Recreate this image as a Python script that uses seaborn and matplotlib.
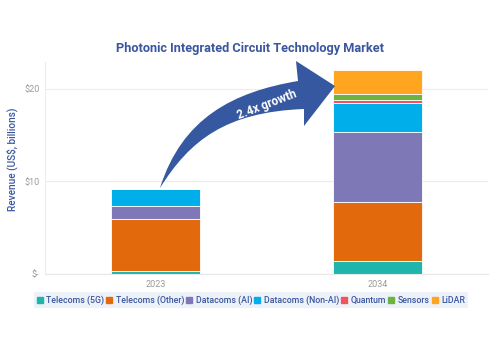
import numpy as np
import pandas as pd
import matplotlib
matplotlib.use("Agg")
import matplotlib.pyplot as plt
from matplotlib.path import Path
from matplotlib.patches import PathPatch
from matplotlib.lines import Line2D
import seaborn as sns

# data (US$ billions)
years = ["2023", "2034"]
segments = ["Telecoms (5G)", "Telecoms (Other)", "Datacoms (AI)", "Datacoms (Non-AI)",
            "Quantum", "Sensors", "LiDAR"]
telecoms_5g = [0.35, 1.4]
telecoms_other = [5.55, 6.4]
datacoms_ai = [1.5, 7.5]
datacoms_nonai = [1.75, 3.2]
quantum = [0.0, 0.3]
sensors = [0.0, 0.65]
lidar = [0.0, 2.6]
colors = ["#1fb5ad", "#e2690c", "#7f78b7", "#00aee9", "#f2545b", "#6cb33f", "#ffa51f"]

values = [telecoms_5g, telecoms_other, datacoms_ai, datacoms_nonai, quantum, sensors, lidar]

sns.set_style("white")
plt.rcParams["font.family"] = ["Roboto", "DejaVu Sans"]

dark_blue = "#3a569f"
grey = "#9a9a9a"

fig = plt.figure(figsize=(5, 3.5), dpi=100)
ax = fig.add_axes([0.09, 0.217, 0.886, 0.606])

bottom = np.zeros(len(years))
for name, vals, c in zip(segments, values, colors):
    vals = np.array(vals)
    if vals.sum() > 0:
        sns.barplot(x=years, y=vals, bottom=bottom, color=c, width=0.4, saturation=1,
                    edgecolor="white", linewidth=0.6, ax=ax)
    bottom = bottom + vals

ax.set_xlim(-0.5, 1.5)
ax.set_ylim(0, 22.9)
ax.set_yticks([0, 10, 20])
ax.set_yticklabels(["$-", "$10", "$20"])
ax.tick_params(axis="both", length=0, labelsize=6.5, labelcolor=grey, pad=4)
ax.yaxis.grid(True, color="#ececec", linewidth=0.8)
ax.set_axisbelow(True)
for s in ["top", "right"]:
    ax.spines[s].set_visible(False)
ax.spines["left"].set_color("#eeeeee")
ax.spines["left"].set_linewidth(0.8)
ax.spines["bottom"].set_color("#e6e6e6")
ax.spines["bottom"].set_linewidth(0.8)
ax.set_ylabel("Revenue (US$, billions)", color=dark_blue, fontsize=7.2, fontweight="medium")
ax.yaxis.set_label_coords(-0.06, 0.54)
ax.set_xlabel("")

fig.text(0.5, 0.862, "Photonic Integrated Circuit Technology Market", ha="center",
         va="center", fontsize=9.2, fontweight="bold", color=dark_blue)

# curved growth arrow, drawn in pixel coordinates
def px(x, y):
    return (x / 500.0, 1 - y / 350.0)

verts = [px(160, 188),
         px(182, 118), px(233, 92), px(298, 81),
         px(296, 61), px(335, 86), px(304, 126), px(304, 109),
         px(226, 112), px(190, 140), px(160, 188),
         px(160, 188)]
codes = [Path.MOVETO,
         Path.CURVE4, Path.CURVE4, Path.CURVE4,
         Path.LINETO, Path.LINETO, Path.LINETO, Path.LINETO,
         Path.CURVE4, Path.CURVE4, Path.CURVE4,
         Path.CLOSEPOLY]
arrow = PathPatch(Path(verts, codes), facecolor="#3558a0", edgecolor="none",
                  transform=fig.transFigure, zorder=5)
fig.patches.append(arrow)
fig.text(267 / 500, 1 - 105 / 350, "2.4x growth", rotation=21, ha="center", va="center",
         fontsize=8.5, fontweight="bold", color="white", zorder=6)

handles = [Line2D([], [], marker="s", linestyle="none", markersize=3.8,
                  markerfacecolor=c, markeredgecolor=c) for c in colors]
leg = fig.legend(handles, segments, loc="center", bbox_to_anchor=(0.502, 1 - 300 / 350),
                 ncol=7, frameon=True, handletextpad=0.4,
                 columnspacing=0.2, handlelength=0.7, borderpad=0.35,
                 prop={"size": 6.35, "weight": "medium"})
leg.get_frame().set_facecolor("#e9eff8")
leg.get_frame().set_edgecolor("none")
for t in leg.get_texts():
    t.set_color(dark_blue)

fig.savefig("out.png", dpi=100)
